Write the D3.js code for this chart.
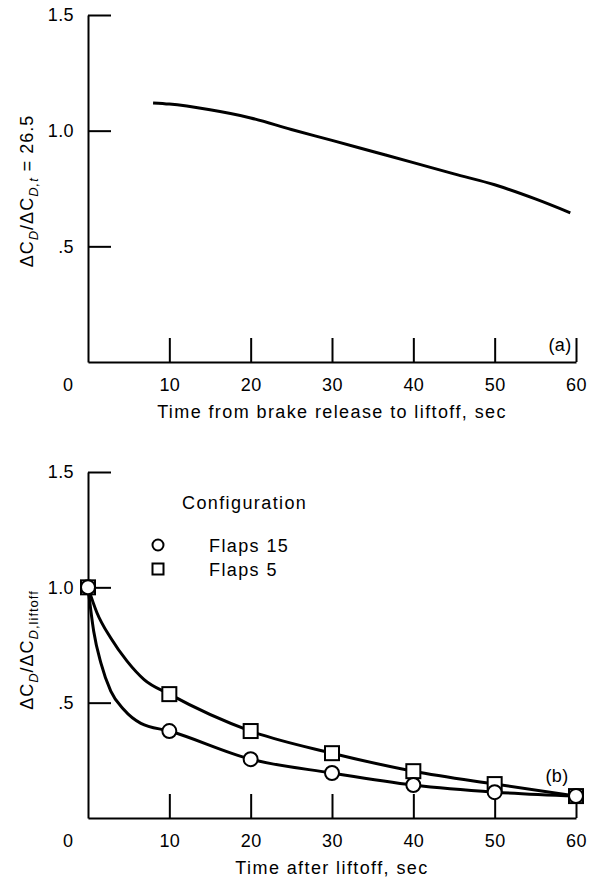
<!DOCTYPE html>
<html>
<head>
<meta charset="utf-8">
<script src="https://cdn.jsdelivr.net/npm/d3@7"></script>
<style>
  html, body { margin: 0; padding: 0; background: #fff; }
  svg { display: block; font-family: "Liberation Sans", Arial, Helvetica, sans-serif; }
</style>
</head>
<body>
<script>
// ---- Panel (a): drag increment vs. time from brake release to liftoff ----
const brakeTime  = [8, 10, 15, 20, 25, 30, 35, 40, 45, 50, 55, 59.3];
const brakeRatio = [1.12, 1.115, 1.09, 1.055, 1.005, 0.958, 0.91, 0.862, 0.813, 0.766, 0.705, 0.645];

// ---- Panel (b): drag increment decay after liftoff ----
const liftTime = [0, 10, 20, 30, 40, 50, 60];
const flaps15  = [1.0, 0.377, 0.255, 0.195, 0.143, 0.112, 0.095];
const flaps5   = [1.0, 0.537, 0.377, 0.281, 0.203, 0.147, 0.095];
// faired-curve readings between liftoff and 10 sec
const fairTime15 = [0.7, 1.6, 2.8, 4.4, 6.5];
const fair15     = [0.81, 0.67, 0.55, 0.47, 0.41];
const fairTime5  = [1.1, 2.8, 4.8, 6.9];
const fair5      = [0.89, 0.78, 0.68, 0.60];

const xTicks = [10, 20, 30, 40, 50, 60];
const yTicks = [0.5, 1.0, 1.5];
const yTickLabels = [".5", "1.0", "1.5"];
const legendLabels = ["Flaps 15", "Flaps 5"];

const W = 606, H = 881;
const svg = d3.select("body").append("svg").attr("width", W).attr("height", H);

const x = d3.scaleLinear().domain([0, 60]).range([88, 576]);
const FS = 18;          // text size
const LS = 1.4;         // letter spacing for words
const NS = 0.4;         // letter spacing for numbers

function panel(yBottom, yTop, xTitle, tag, tagPos) {
  const y = d3.scaleLinear().domain([0, 1.5]).range([yBottom, yTop]);
  const g = svg.append("g");

  const ax = g.append("g").attr("transform", `translate(0,${yBottom})`)
    .call(d3.axisBottom(x).tickValues(xTicks).tickSizeInner(-24).tickSizeOuter(0)
      .tickPadding(16).tickFormat(d3.format("d")));
  const ay = g.append("g").attr("transform", `translate(${x(0)},0)`)
    .call(d3.axisLeft(y).tickValues(yTicks).tickSizeInner(-23).tickSizeOuter(0)
      .tickPadding(14).tickFormat((d, i) => yTickLabels[i]));
  [ax, ay].forEach(a => {
    a.selectAll("path, line").attr("stroke", "#000").attr("stroke-width", 2);
    a.selectAll("text").attr("font-size", FS).attr("fill", "#000")
      .attr("letter-spacing", NS)
      .attr("font-family", "Liberation Sans, Arial, sans-serif");
  });

  // shared origin label
  g.append("text").attr("x", 68).attr("y", yBottom + 29).attr("text-anchor", "middle")
    .attr("font-size", FS).text("0");

  g.append("text").attr("x", x(30)).attr("y", yBottom + 56).attr("text-anchor", "middle")
    .attr("font-size", FS).attr("letter-spacing", LS).text(xTitle);

  g.append("text").attr("x", tagPos[0]).attr("y", tagPos[1]).attr("text-anchor", "middle")
    .attr("font-size", FS).attr("letter-spacing", NS).text(tag);

  return { g, y };
}

function yTitle(g, cy, sub2) {
  const t = g.append("text")
    .attr("transform", `translate(33,${cy}) rotate(-90)`)
    .attr("text-anchor", "middle").attr("font-size", FS).attr("letter-spacing", 1);
  t.append("tspan").text("ΔC");
  t.append("tspan").attr("dy", 5).attr("font-size", 13).attr("font-style", "italic").text("D");
  t.append("tspan").attr("dy", -5).text("/ΔC");
  sub2(t);
}

// ---- (a) ----
const pa = panel(362, 15, "Time from brake release to liftoff, sec", "(a)", [560, 351]);
yTitle(pa.g, 191, t => {
  t.append("tspan").attr("dy", 5).attr("font-size", 13).attr("font-style", "italic").text("D,t");
  t.append("tspan").attr("dy", -5).text(" = 26.5");
});
const lineA = d3.line().x(d => x(d[0])).y(d => pa.y(d[1])).curve(d3.curveMonotoneX);
pa.g.append("path").datum(brakeTime.map((t, i) => [t, brakeRatio[i]]))
  .attr("d", lineA).attr("fill", "none").attr("stroke", "#000").attr("stroke-width", 3);

// ---- (b) ----
const pb = panel(818, 472, "Time after liftoff, sec", "(b)", [557, 782]);
yTitle(pb.g, 650, t => {
  t.append("tspan").attr("dy", 5).attr("font-size", 13).attr("font-style", "italic").text("D");
  t.append("tspan").attr("font-size", 13).text(",liftoff");
});

const lineB = d3.line().x(d => x(d[0])).y(d => pb.y(d[1])).curve(d3.curveMonotoneX);
function curvePts(tt, vv, ft, fv) {
  const pts = tt.map((t, i) => [t, vv[i]]).concat(ft.map((t, i) => [t, fv[i]]));
  return pts.sort((a, b) => a[0] - b[0]);
}
[[flaps15, fairTime15, fair15], [flaps5, fairTime5, fair5]].forEach(([v, ft, fv]) => {
  pb.g.append("path").datum(curvePts(liftTime, v, ft, fv))
    .attr("d", lineB).attr("fill", "none").attr("stroke", "#000").attr("stroke-width", 3);
});

// markers: squares then circles
const sq = 14, r = 7;
pb.g.selectAll("rect.f5").data(liftTime.map((t, i) => [t, flaps5[i]])).join("rect")
  .attr("x", d => x(d[0]) - sq / 2).attr("y", d => pb.y(d[1]) - sq / 2)
  .attr("width", sq).attr("height", sq)
  .attr("fill", "#fff").attr("stroke", "#000").attr("stroke-width", 2);
pb.g.selectAll("circle.f15").data(liftTime.map((t, i) => [t, flaps15[i]])).join("circle")
  .attr("cx", d => x(d[0])).attr("cy", d => pb.y(d[1])).attr("r", r)
  .attr("fill", "#fff").attr("stroke", "#000").attr("stroke-width", 2);

// legend
const lg = pb.g.append("g");
lg.append("text").attr("x", 182).attr("y", 509).attr("font-size", FS).attr("letter-spacing", LS)
  .text("Configuration");
lg.append("circle").attr("cx", 158).attr("cy", 545).attr("r", 5.5)
  .attr("fill", "#fff").attr("stroke", "#000").attr("stroke-width", 2);
lg.append("rect").attr("x", 158 - 5.5).attr("y", 569 - 5.5).attr("width", 11).attr("height", 11)
  .attr("fill", "#fff").attr("stroke", "#000").attr("stroke-width", 2);
lg.append("text").attr("x", 209).attr("y", 552).attr("font-size", FS).attr("letter-spacing", LS)
  .text(legendLabels[0]);
lg.append("text").attr("x", 209).attr("y", 576).attr("font-size", FS).attr("letter-spacing", LS)
  .text(legendLabels[1]);
</script>
</body>
</html>
